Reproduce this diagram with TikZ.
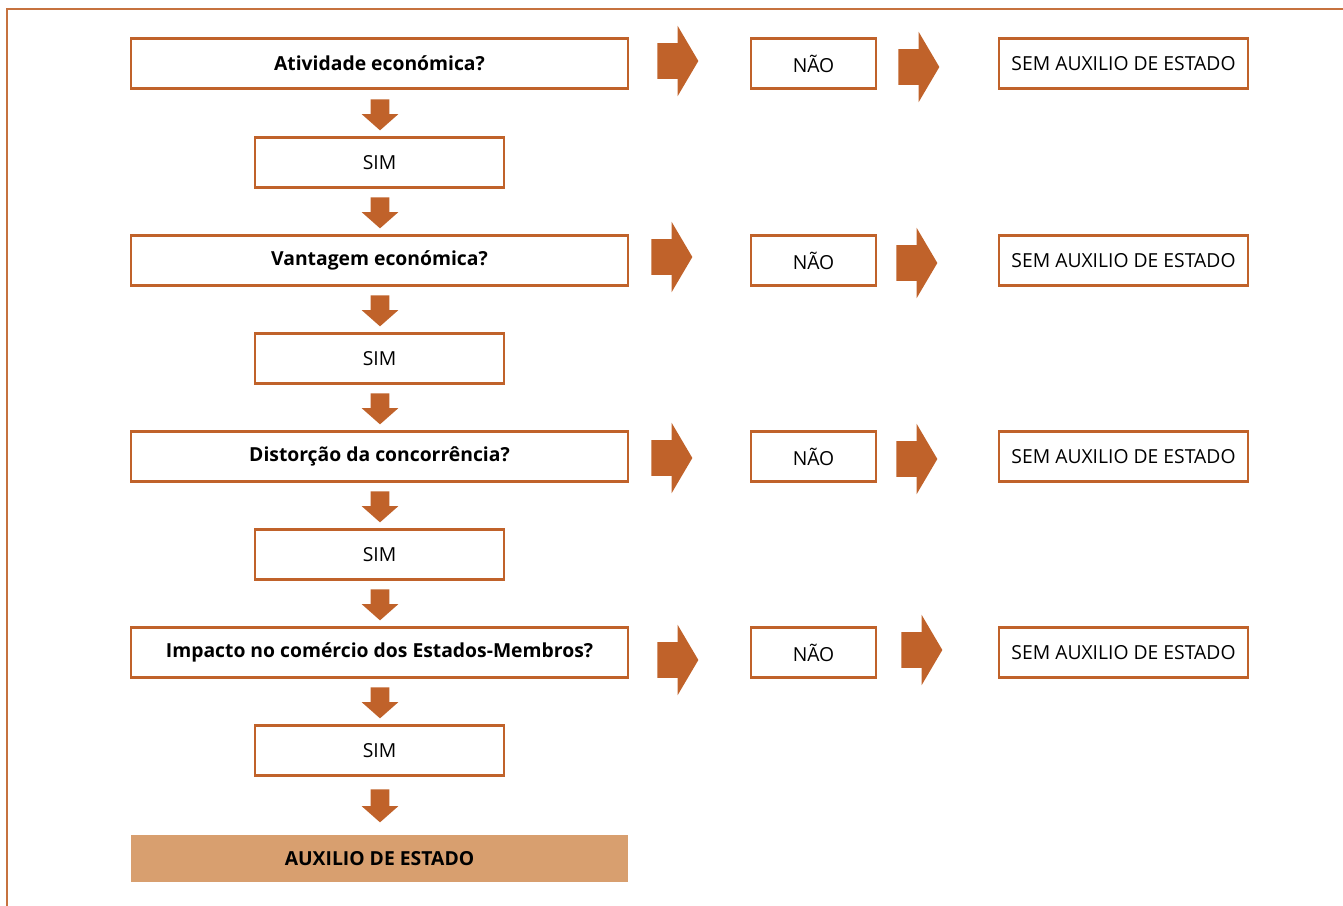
\documentclass[tikz,border=0pt]{standalone}
\usepackage{fontspec}
\setmainfont{Open Sans}
\usepackage{xcolor}
\usepackage{tikz}
\usetikzlibrary{positioning,shapes.arrows}
\definecolor{rust}{HTML}{C0622A}
\definecolor{sand}{HTML}{D89F6F}

\begin{document}
\begin{tikzpicture}[x=0.02cm, y=-0.02cm,
  question/.style={draw=rust, line width=1.3pt, minimum width=9.94cm, minimum height=1cm,
                   font=\fontsize{11}{13}\selectfont\bfseries, align=center, inner sep=1pt},
  answer/.style={draw=rust, line width=1.3pt, minimum width=4.98cm, minimum height=1cm,
                 font=\fontsize{11}{13}\selectfont, align=center, inner sep=1pt},
  nobox/.style={answer, minimum width=2.5cm},
  result/.style={fill=sand, minimum width=9.94cm, minimum height=0.94cm,
                 font=\fontsize{11}{13}\selectfont\bfseries, inner sep=1pt},
  darr/.style={single arrow, fill=rust, anchor=tail, shape border rotate=270,
               inner xsep=0.18cm, inner ysep=0pt, single arrow head extend=0.18cm,
               minimum width=0.72cm, minimum height=0.62cm, single arrow tip angle=97},
  rarr/.style={single arrow, fill=rust, anchor=tail,
               inner xsep=0pt, inner ysep=0.35cm, single arrow head extend=0.35cm,
               minimum width=1.4cm, minimum height=0.82cm, single arrow tip angle=119},
]
\useasboundingbox (0,0) rectangle (1343,906);

% --- frame ---
\draw[rust!90, line width=1.1pt] (7,930) -- (7,9) -- (1370,9);

% --- left column: questions and SIM ---
\node[question] (q1) at (379.5,63.5) {Atividade económica?};
\node[answer]   (s1) at (379.5,162.5) {SIM};
\node[question] (q2) at (379.5,260.5) {Vantagem económica?};
\node[answer]   (s2) at (379.5,358.5) {SIM};
\node[question] (q3) at (379.5,456.5) {Distorção da concorrência?};
\node[answer]   (s3) at (379.5,554.5) {SIM};
\node[question] (q4) at (379.5,652.5) {Impacto no comércio dos Estados-Membros?};
\node[answer]   (s4) at (379.5,750.5) {SIM};
\node[result]   (aux) at (379.5,858.5) {AUXILIO DE ESTADO};

\node[darr] (d1) at (380,99) {};
\node[darr] (d2) at (380,197) {};
\node[darr] (d3) at (380,295) {};
\node[darr] (d4) at (380,393) {};
\node[darr] (d5) at (380,491) {};
\node[darr] (d6) at (380,589) {};
\node[darr] (d7) at (380,687) {};
\node[darr, minimum height=0.66cm] (d8) at (380,789) {};

% --- right side: NAO and outcome ---
\node[nobox]  (n1) at (813.5,63.5) {NÃO};
\node[nobox]  (n2) at (813.5,260.5) {NÃO};
\node[nobox]  (n3) at (813.5,456.5) {NÃO};
\node[nobox]  (n4) at (813.5,652.5) {NÃO};
\node[answer] (o1) at (1123.5,63.5) {SEM AUXILIO DE ESTADO};
\node[answer] (o2) at (1123.5,260.5) {SEM AUXILIO DE ESTADO};
\node[answer] (o3) at (1123.5,456.5) {SEM AUXILIO DE ESTADO};
\node[answer] (o4) at (1123.5,652.5) {SEM AUXILIO DE ESTADO};

\node[rarr] (r1a) at (657,61) {};
\node[rarr] (r1b) at (898,67) {};
\node[rarr] (r2a) at (651,257) {};
\node[rarr] (r2b) at (896,263) {};
\node[rarr] (r3a) at (651,458) {};
\node[rarr] (r3b) at (896,459) {};
\node[rarr] (r4a) at (657,660) {};
\node[rarr] (r4b) at (901,650) {};
\end{tikzpicture}
\end{document}
